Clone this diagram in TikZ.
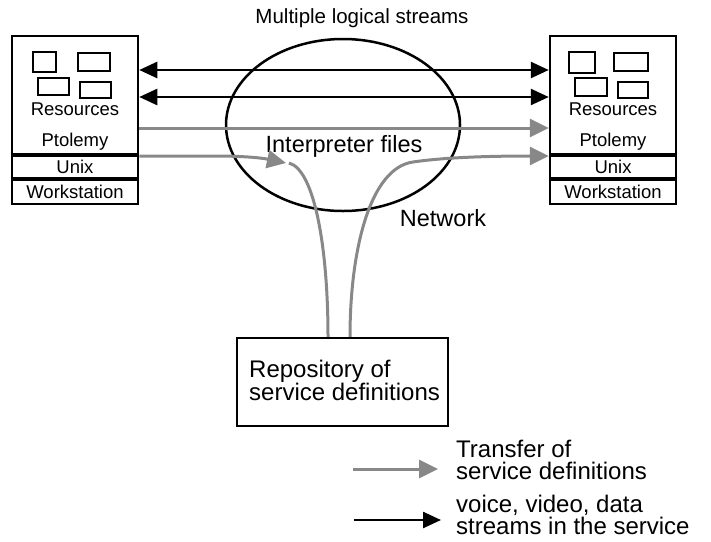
\documentclass[tikz,border=0pt]{standalone}
\usepackage{fontspec}
\setmainfont{Liberation Sans}
\usetikzlibrary{arrows.meta,shapes.geometric}
\definecolor{flowgray}{RGB}{136,136,136}
\tikzset{
  hostbox/.style={draw=black, line width=2.5pt, minimum width=126pt, minimum height=168pt, inner sep=0pt},
  res/.style={draw=black, line width=2.5pt, inner sep=0pt},
  sepline/.style={line width=3.5pt},
  small/.style={font=\fontsize{18.5}{19}\selectfont, inner sep=0pt},
  big/.style={font=\fontsize{23.5}{22}\selectfont, inner sep=0pt},
  legendtext/.style={anchor=west, align=left, inner sep=0pt, font=\fontsize{24}{22.5}\selectfont},
  stream/.style={line width=2.5pt, draw=black, -{Triangle[length=18pt,width=16pt]}},
  bistream/.style={line width=2.5pt, draw=black, {Triangle[length=18pt,width=16pt]}-{Triangle[length=18pt,width=16pt]}},
  transfer/.style={line width=3pt, draw=flowgray, -{Triangle[length=19pt,width=18pt]}},
  transferline/.style={line width=3pt, draw=flowgray},
}
\begin{document}
\begin{tikzpicture}[x=1pt,y=-1pt]
\useasboundingbox (0,0) rectangle (711,541);

% network ellipse
\node[ellipse, draw=black, line width=2.5pt, minimum width=234pt, minimum height=172pt, inner sep=0pt] (net) at (343,125) {};

% left host
\node[hostbox] (L) at (75,120) {};
\draw[sepline] (12,155) -- (138,155);
\draw[sepline] (12,179) -- (138,179);
\draw[res] (33,52) rectangle (56,72);
\draw[res] (78,53) rectangle (110,71);
\draw[res] (38,78) rectangle (69,95);
\draw[res] (80,82) rectangle (111,98);
\node[small] (lres) at (75,109) {Resources};
\node[small] (lpt) at (75,142) {Ptolemy};
\node[small] (lux) at (75,167) {Unix};
\node[small] (lws) at (75,192) {Workstation};

% right host
\node[hostbox] (R) at (613,120) {};
\draw[sepline] (550,155) -- (676,155);
\draw[sepline] (550,179) -- (676,179);
\draw[res] (569,52) rectangle (595,73);
\draw[res] (614,53) rectangle (648,71);
\draw[res] (575,78) rectangle (607,96);
\draw[res] (618,82) rectangle (648,98);
\node[small] (rres) at (613,109) {Resources};
\node[small] (rpt) at (613,142) {Ptolemy};
\node[small] (rux) at (613,167) {Unix};
\node[small] (rws) at (613,192) {Workstation};

% labels
\node[big, font=\fontsize{20.5}{22}\selectfont] (title) at (362,18) {Multiple logical streams};
\node[big] (interp) at (344,146) {Interpreter files};
\node[big] (netlbl) at (443,218) {Network};

% repository
\node[draw=black, line width=2.5pt, minimum width=211pt, minimum height=88pt, inner sep=0pt] (rep) at (342.5,382) {};
\node[big, anchor=west, align=left, font=\fontsize{24}{23}\selectfont] (reptext) at (249,380) {Repository of\\service definitions};

% streams
\draw[bistream] (L.east |- 0,70) -- (R.west |- 0,70);
\draw[bistream] (L.east |- 0,97) -- (R.west |- 0,97);

% transfers
\draw[transfer] (L.east |- 0,128) -- (R.west |- 0,128);
\coordinate (ltip) at (286,163);
\draw[transfer] (L.east |- 0,156) -- (215,156) .. controls (245,156) and (262,158) .. (ltip);
\draw[transferline] (289,163) .. controls (315,170) and (328,250) .. (rep.north -| 328,0);
\coordinate (rk) at (413,162);
\draw[transferline] (rep.north -| 350,0) .. controls (350,250) and (370,168) .. (rk);
\draw[transfer] (rk) .. controls (440,158) and (480,156) .. (R.west |- 0,156);

% legend
\coordinate (g1) at (353,469);
\coordinate (g2) at (438,469);
\draw[transfer] (g1) -- (g2);
\node[legendtext] (lg1) at (456,460) {Transfer of\\service definitions};
\coordinate (b1) at (354,520);
\coordinate (b2) at (441,520);
\draw[stream] (b1) -- (b2);
\node[legendtext] (lg2) at (456,515) {voice, video, data\\streams in the service};
\end{tikzpicture}
\end{document}
